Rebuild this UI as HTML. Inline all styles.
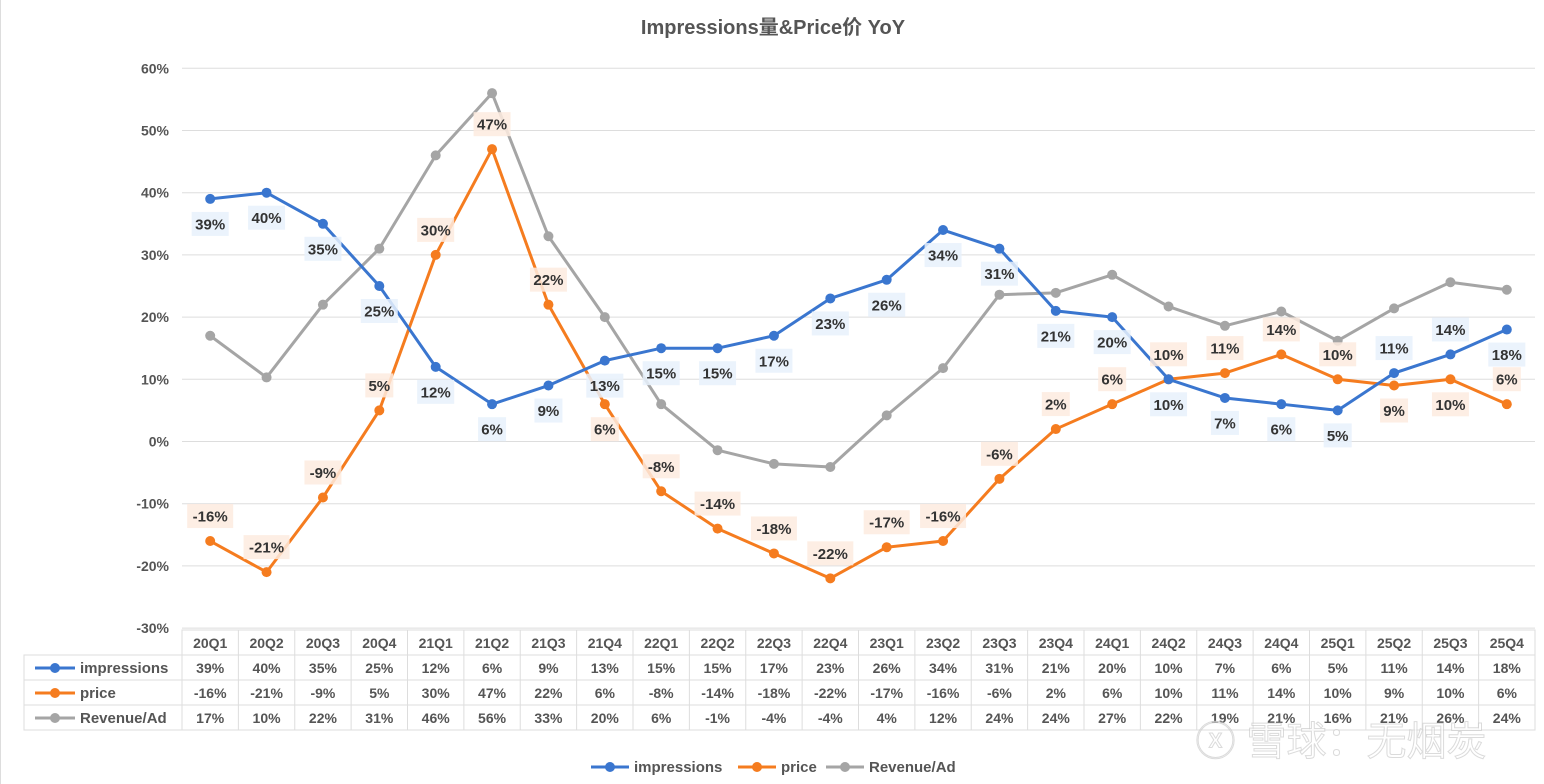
<!DOCTYPE html>
<html><head><meta charset="utf-8">
<style>
html,body{margin:0;padding:0;background:#fff;}
body{width:1544px;height:784px;overflow:hidden;border-left:1px solid #ddd;box-sizing:border-box;}
svg{display:block;font-family:"Liberation Sans","Noto Sans CJK SC",sans-serif;}
</style></head>
<body>
<svg id="chart" width="1544" height="784" viewBox="0 0 1544 784">
<text x="772" y="34" text-anchor="middle" font-size="20" font-weight="bold" fill="#555">Impressions量&amp;Price价 YoY</text>
<g id="grid"></g><g id="lines"></g><g id="labels"></g><g id="table"></g><g id="legend"></g>
<text x="1340" y="755" text-anchor="middle" font-size="40" fill="#fff" stroke="#ccc" stroke-width="1" opacity="0.7">ⓧ 雪球：无烟炭</text>
</svg>
<script>
const categories=["20Q1","20Q2","20Q3","20Q4","21Q1","21Q2","21Q3","21Q4","22Q1","22Q2","22Q3","22Q4","23Q1","23Q2","23Q3","23Q4","24Q1","24Q2","24Q3","24Q4","25Q1","25Q2","25Q3","25Q4"];
const impressions=[39,40,35,25,12,6,9,13,15,15,17,23,26,34,31,21,20,10,7,6,5,11,14,18];
const price=[-16,-21,-9,5,30,47,22,6,-8,-14,-18,-22,-17,-16,-6,2,6,10,11,14,10,9,10,6];
const revenuePerAd=[17,10.3,22,31,46,56,33,20,6,-1.4,-3.6,-4.1,4.2,11.8,23.6,23.9,26.8,21.7,18.6,20.9,16.2,21.4,25.6,24.4];
const yTicks=[60,50,40,30,20,10,0,-10,-20,-30];
const seriesNames=["impressions","price","Revenue/Ad"];
// label placement: 1 = below, -1 = above
const impPos=[1,1,1,1,1,1,1,1,1,1,1,1,1,1,1,1,1,1,1,1,1,-1,-1,1];
const pricePos=[-1,-1,-1,-1,-1,-1,-1,1,-1,-1,-1,-1,-1,-1,-1,-1,-1,-1,-1,-1,-1,1,1,-1];

const NS="http://www.w3.org/2000/svg";
const X0=181,X1=1534,colW=(X1-X0)/categories.length;
const x=i=>X0+colW*(i+0.5);
const y=v=>441.5-v*6.22;
function mk(tag,attrs,parent,txt){const e=document.createElementNS(NS,tag);for(const k in attrs)e.setAttribute(k,attrs[k]);if(txt!==undefined)e.textContent=txt;parent.appendChild(e);return e;}
const G=id=>document.getElementById(id);
yTicks.forEach(t=>{
  const l=mk('line',{x1:X0,x2:X1,y1:y(t),y2:y(t),stroke:'#ddd','stroke-width':1},G('grid'));
  
  
  const tx=mk('text',{x:168,y:y(t)+5,'text-anchor':'end','font-size':14,'font-weight':'bold',fill:'#555'},G('grid'),t+'%');
  
  
});
const colors=['#3a76cf','#f57c1f','#a5a5a5'];
const data=[impressions,price,revenuePerAd];
[2,1,0].forEach(s=>{
  const g=mk('g',{},G('lines'));
  
  
  mk('polyline',{points:data[s].map((v,i)=>x(i)+','+y(v)).join(' '),fill:'none',stroke:colors[s],'stroke-width':3,'stroke-linejoin':'round'},g);
  data[s].forEach((v,i)=>{const c=mk('circle',{cx:x(i),cy:y(v),r:5,fill:colors[s]},g);
    
    });
});
function lab(vals,pos,bg){
  vals.forEach((v,i)=>{
    const cy=y(v)+pos[i]*25;
    const t=Math.round(v)+'%';const w=t.length*9+10;
    const g=mk('g',{},G('labels'));
    
    
    mk('rect',{x:x(i)-w/2,y:cy-12,width:w,height:24,fill:bg,opacity:0.85},g);
    mk('text',{x:x(i),y:cy+5.5,'text-anchor':'middle','font-size':15,'font-weight':'bold',fill:'#333'},g,t);
  });
}
lab(impressions,impPos,'#e8f1fb');
lab(price,pricePos,'#fdebdf');
const T=G('table');const rowY=[630,655,680,705,730];
const tl=23;
mk('rect',{x:X0,y:630,width:X1-X0,height:100,fill:'none',stroke:'#ddd'},T);
mk('rect',{x:tl,y:655,width:X0-tl,height:75,fill:'none',stroke:'#ddd'},T);
for(let r=1;r<4;r++)mk('line',{x1:tl,x2:X1,y1:rowY[r],y2:rowY[r],stroke:'#ddd'},T);
for(let i=1;i<categories.length;i++)mk('line',{x1:X0+colW*i,x2:X0+colW*i,y1:630,y2:730,stroke:'#ddd'},T);
categories.forEach((c,i)=>{const t=mk('text',{x:x(i),y:648,'text-anchor':'middle','font-size':14,'font-weight':'bold',fill:'#555'},T,c);
  
  });
data.forEach((arr,s)=>{
  const ry=rowY[s+1]+18;
  mk('line',{x1:34,x2:74,y1:ry-5,y2:ry-5,stroke:colors[s],'stroke-width':3},T);
  mk('circle',{cx:54,cy:ry-5,r:5,fill:colors[s]},T);
  const n=mk('text',{x:79,y:ry,'font-size':15,'font-weight':'bold',fill:'#555'},T,seriesNames[s]);
  
  
  arr.forEach((v,i)=>{const t=mk('text',{x:x(i),y:ry,'text-anchor':'middle','font-size':14,'font-weight':'bold',fill:'#555'},T,Math.round(v)+'%');
    
    });
});
const L=G('legend');const lx=[590,737,825];
data.forEach((a,s)=>{
  const g=mk('g',{},L);
  
  
  mk('line',{x1:lx[s],x2:lx[s]+38,y1:767,y2:767,stroke:colors[s],'stroke-width':3},g);
  mk('circle',{cx:lx[s]+19,cy:767,r:5,fill:colors[s]},g);
  mk('text',{x:lx[s]+43,y:772,'font-size':15,'font-weight':'bold',fill:'#555'},g,seriesNames[s]);
});
</script>
</body></html>
